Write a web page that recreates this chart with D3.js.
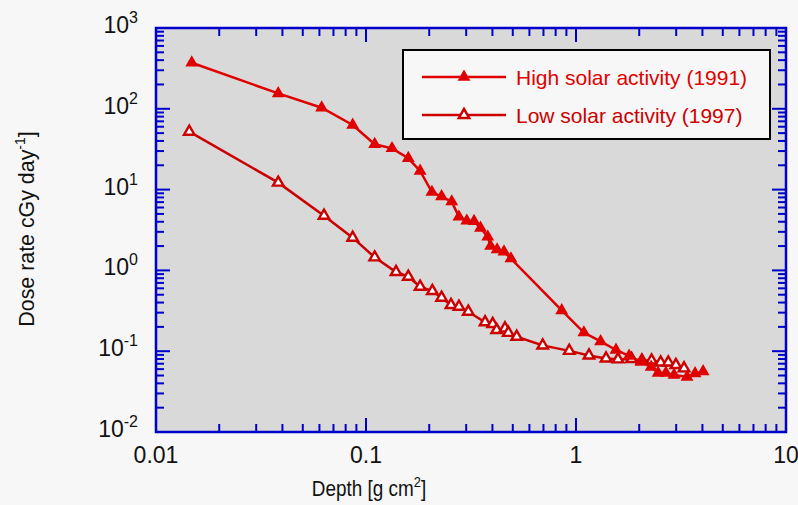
<!DOCTYPE html>
<html>
<head>
<meta charset="utf-8">
<script src="https://cdn.jsdelivr.net/npm/d3@7"></script>
<style>
  html, body { margin: 0; padding: 0; background: #f7f7f7; }
  svg { display: block; font-family: "Liberation Sans", Arial, sans-serif; }
</style>
</head>
<body>
<svg id="chart" width="798" height="505"></svg>
<script>
// ---- data ----
const seriesNames = ["High solar activity (1991)", "Low solar activity (1997)"];
const highX = [0.0148, 0.0382, 0.0615, 0.0864, 0.110, 0.133, 0.159, 0.181, 0.206, 0.229, 0.256, 0.277, 0.302, 0.327, 0.351, 0.380, 0.392, 0.421, 0.454, 0.490, 0.855, 1.09, 1.31, 1.55, 1.79, 2.04, 2.28, 2.46, 2.68, 2.93, 3.38, 3.69, 4.03];
const highY = [372, 155, 103, 63, 36.4, 32.4, 24.4, 17.0, 9.3, 8.2, 7.1, 4.6, 4.1, 4.05, 3.35, 2.6, 2.0, 1.81, 1.70, 1.40, 0.319, 0.170, 0.132, 0.1035, 0.0873, 0.0735, 0.0637, 0.0537, 0.0537, 0.0507, 0.048, 0.053, 0.0561];
const lowX = [0.0144, 0.0382, 0.0631, 0.0864, 0.110, 0.139, 0.159, 0.181, 0.207, 0.229, 0.254, 0.277, 0.307, 0.369, 0.401, 0.419, 0.459, 0.476, 0.522, 0.694, 0.929, 1.153, 1.39, 1.585, 1.84, 2.06, 2.29, 2.53, 2.75, 2.99, 3.27];
const lowY = [52.1, 12.2, 4.75, 2.54, 1.45, 0.955, 0.836, 0.629, 0.556, 0.459, 0.373, 0.356, 0.308, 0.228, 0.217, 0.183, 0.192, 0.169, 0.151, 0.118, 0.101, 0.0885, 0.0813, 0.0794, 0.080, 0.0767, 0.0767, 0.0725, 0.0725, 0.0675, 0.0614];
const xTickValues = [0.01, 0.1, 1, 10];
const xTickLabels = ["0.01", "0.1", "1", "10"];
const yTickExponents = [-2, -1, 0, 1, 2, 3];
const xTitle = ["Depth [g cm", "2", "]"];
const yTitle = ["Dose rate cGy day", "-1", "]"];

// ---- layout ----
const W = 798, H = 505;
const L = 156, R = 786, T = 28, B = 432;
const axisColor = "#0000cc";
const highColor = "#e00000";
const lowColor = "#cc0000";

const svg = d3.select("#chart");
svg.append("rect").attr("width", W).attr("height", H).attr("fill", "#f7f7f7");

const x = d3.scaleLog().domain([0.01, 10]).range([L, R]);
const y = d3.scaleLog().domain([0.01, 1000]).range([B, T]);

svg.append("rect").attr("x", L).attr("y", T).attr("width", R - L).attr("height", B - T).attr("fill", "#d9d9d9");

// minor/major tick lists
function logTicks(lo, hi) {
  const out = [];
  for (let e = Math.round(Math.log10(lo)); e < Math.round(Math.log10(hi)); e++) {
    for (let m = 1; m <= 9; m++) out.push({v: m * Math.pow(10, e), major: m === 1});
  }
  out.push({v: hi, major: true});
  return out;
}
const xt = logTicks(0.01, 10);
const yt = logTicks(0.01, 1000);
const MAJ = 14, MIN = 8;

const tg = svg.append("g").attr("stroke", axisColor).attr("stroke-width", 2);
xt.forEach(t => {
  const px = x(t.v), len = t.major ? MAJ : MIN;
  tg.append("line").attr("x1", px).attr("x2", px).attr("y1", B).attr("y2", B - len);
  tg.append("line").attr("x1", px).attr("x2", px).attr("y1", T).attr("y2", T + len);
});
yt.forEach(t => {
  const py = y(t.v), len = t.major ? MAJ : MIN;
  tg.append("line").attr("x1", L).attr("x2", L + len).attr("y1", py).attr("y2", py);
  tg.append("line").attr("x1", R).attr("x2", R - len).attr("y1", py).attr("y2", py);
});
svg.append("rect").attr("x", L).attr("y", T).attr("width", R - L).attr("height", B - T)
  .attr("fill", "none").attr("stroke", axisColor).attr("stroke-width", 2.5);

// x tick labels
xTickValues.forEach((v, i) => {
  svg.append("text").attr("x", x(v)).attr("y", 463).attr("text-anchor", "middle")
    .attr("font-size", 23).attr("fill", "#111").text(xTickLabels[i]);
});
// y tick labels
yTickExponents.forEach(e => {
  const t = svg.append("text").attr("x", 138).attr("y", y(Math.pow(10, e)) + 5)
    .attr("text-anchor", "end").attr("font-size", 23).attr("fill", "#111");
  t.append("tspan").text("10");
  t.append("tspan").attr("dy", -10).attr("font-size", 16).text(String(e));
});

// axis titles
const xt1 = svg.append("text").attr("transform", "translate(369,496) scale(0.86,1)")
  .attr("text-anchor", "middle").attr("font-size", 22).attr("fill", "#111");
xt1.append("tspan").text(xTitle[0]);
xt1.append("tspan").attr("dy", -9).attr("font-size", 15).text(xTitle[1]);
xt1.append("tspan").attr("dy", 9).text(xTitle[2]);

const yt1 = svg.append("text").attr("transform", "translate(34,229) rotate(-90) scale(0.93,1)")
  .attr("text-anchor", "middle").attr("font-size", 23).attr("fill", "#111");
yt1.append("tspan").text(yTitle[0]);
yt1.append("tspan").attr("dy", -9).attr("font-size", 15).text(yTitle[1]);
yt1.append("tspan").attr("dy", 9).text(yTitle[2]);

// series
const line = d3.line().x(d => x(d[0])).y(d => y(d[1]));
const highData = highX.map((v, i) => [v, highY[i]]);
const lowData = lowX.map((v, i) => [v, lowY[i]]);
const tri = d3.symbol().type(d3.symbolTriangle);

svg.append("path").datum(lowData).attr("d", line).attr("fill", "none")
  .attr("stroke", lowColor).attr("stroke-width", 2.5);
svg.append("path").datum(highData).attr("d", line).attr("fill", "none")
  .attr("stroke", highColor).attr("stroke-width", 2.5);

svg.append("g").selectAll("path").data(lowData).join("path")
  .attr("transform", d => `translate(${x(d[0])},${y(d[1])})`)
  .attr("d", tri.size(48)).attr("fill", "#ffffff").attr("stroke", lowColor).attr("stroke-width", 2.4);
svg.append("g").selectAll("path").data(highData).join("path")
  .attr("transform", d => `translate(${x(d[0])},${y(d[1])})`)
  .attr("d", tri.size(72)).attr("fill", highColor).attr("stroke", "none");

// legend
const lg = svg.append("g");
lg.append("rect").attr("x", 403).attr("y", 50).attr("width", 367).attr("height", 89)
  .attr("fill", "#f7f7f7").attr("stroke", "#000").attr("stroke-width", 2);
[[77, highColor, true], [115, lowColor, false]].forEach((r, i) => {
  lg.append("line").attr("x1", 422).attr("x2", 506).attr("y1", r[0]).attr("y2", r[0])
    .attr("stroke", r[1]).attr("stroke-width", 2.5);
  const m = lg.append("path").attr("transform", `translate(464,${r[0]})`);
  if (r[2]) m.attr("d", tri.size(72)).attr("fill", r[1]);
  else m.attr("d", tri.size(48)).attr("fill", "#fff").attr("stroke", r[1]).attr("stroke-width", 2.4);
  lg.append("text").attr("x", 516).attr("y", r[0] + 8).attr("font-size", 21)
    .attr("fill", r[1]).text(seriesNames[i]);
});
</script>
</body>
</html>
